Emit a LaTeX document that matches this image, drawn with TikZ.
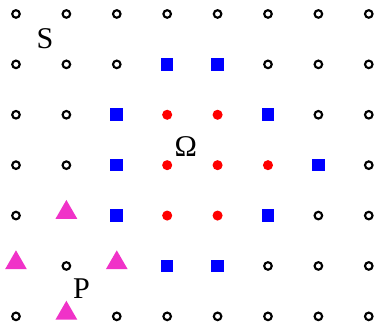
\documentclass[tikz,border=0pt]{standalone}
\usepackage{fontspec}
\setmainfont{Liberation Serif}
\usetikzlibrary{shapes.geometric, positioning}
\usepackage{xcolor}
\definecolor{ptpink}{RGB}{240,50,200}
\tikzstyle{hollow}    = [draw, circle, line width=1.2pt, minimum size=0.15cm, inner sep=0pt]
\tikzstyle{boundary}  = [fill=blue, minimum size=0.25cm, inner sep=0pt]
\tikzstyle{interior}  = [fill=red, circle, minimum size=0.2cm, inner sep=0pt]
\tikzstyle{outlier}   = [fill=ptpink, regular polygon, regular polygon sides=3, minimum size=0.5cm, inner sep=0pt, yshift=0.6mm]
\tikzstyle{setlabel}  = [inner sep=0pt, font=\fontsize{17}{19}\selectfont]

\begin{document}
\begin{tikzpicture}[scale=1]
    \useasboundingbox (-0.317,0.277) rectangle (7.183,-6.37);

    % empty grid points
    \foreach \i/\j in {0/0,1/0,2/0,3/0,4/0,5/0,6/0,7/0,
                       0/1,1/1,2/1,5/1,6/1,7/1,
                       0/2,1/2,6/2,7/2,
                       0/3,1/3,7/3,
                       0/4,6/4,7/4,
                       1/5,5/5,6/5,7/5,
                       0/6,2/6,3/6,4/6,5/6,6/6,7/6}
        \node[hollow] (c\i\j) at (\i,-\j) {};

    % boundary
    \foreach \i/\j in {3/1,4/1,2/2,5/2,2/3,6/3,2/4,5/4,3/5,4/5}
        \node[boundary] (b\i\j) at (\i,-\j) {};

    % interior
    \foreach \i/\j in {3/2,4/2,3/3,4/3,5/3,3/4,4/4}
        \node[interior] (r\i\j) at (\i,-\j) {};

    % P
    \foreach \i/\j in {1/4,0/5,2/5,1/6}
        \node[outlier] (t\i\j) at (\i,-\j) {};

    \node[setlabel] (S)     at (0.575,-0.494) {S};
    \node[setlabel] (Omega) at (3.37,-2.64)   {Ω};
    \node[setlabel] (P)     at (1.30,-5.45)   {P};

\end{tikzpicture}
\end{document}
